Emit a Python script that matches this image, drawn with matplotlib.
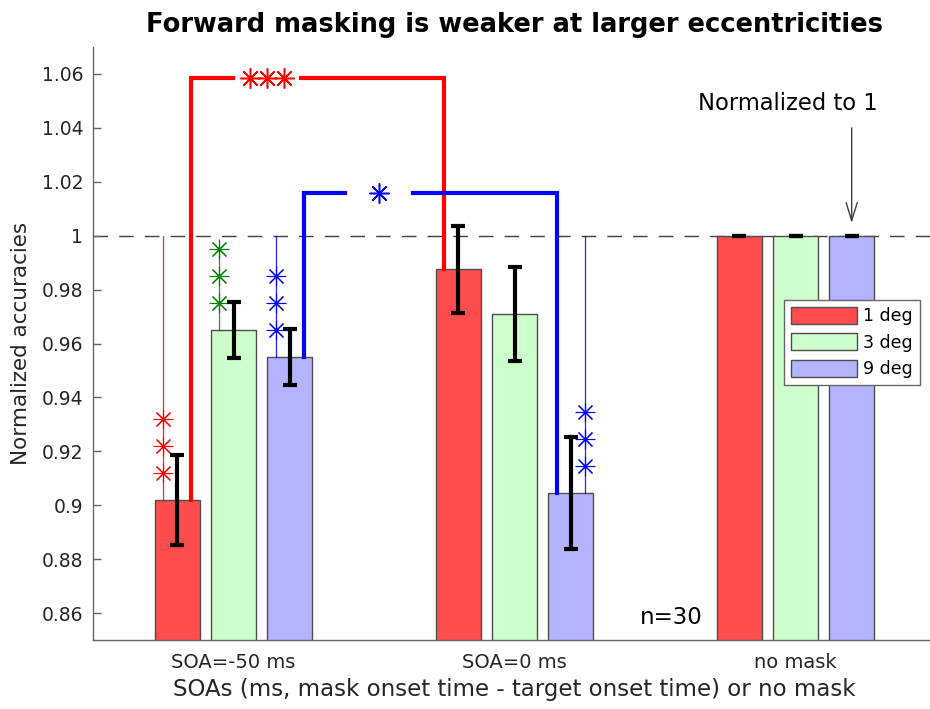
import matplotlib
matplotlib.use("Agg")
import matplotlib.pyplot as plt
import numpy as np

# data
groups = ["SOA=-50 ms", "SOA=0 ms", "no mask"]
ecc_labels = ["1 deg", "3 deg", "9 deg"]
acc_1deg = [0.902, 0.9875, 1.0]
acc_3deg = [0.965, 0.971, 1.0]
acc_9deg = [0.955, 0.9045, 1.0]
err_1deg = [0.0168, 0.0162, 0.0]
err_3deg = [0.0103, 0.0174, 0.0]
err_9deg = [0.0104, 0.0209, 0.0]

# stars vs. 1: (group, eccentricity, number of stars, side)
sig_group = [0, 0, 0, 1]
sig_ecc = [0, 1, 2, 2]
sig_nstars = [3, 3, 3, 3]
sig_side = [-1, -1, -1, 1]

# brackets between SOAs for one eccentricity
bracket_ecc = [2, 0]
bracket_y = [1.016, 1.0584]
bracket_star_x = [1.519, 1.12]
bracket_nstars = [1, 3]

n_subj = 30

bar_colors = ["#ff4d4d", "#ccffcc", "#b3b3ff"]
star_colors = ["#ff0000", "#008000", "#0000ff"]
axis_gray = "#666666"
text_col = "#262626"

plt.rcParams["font.family"] = "DejaVu Sans"

fig = plt.figure(figsize=(9.3, 7.09), dpi=100)
ax = fig.add_axes([93 / 930, 1 - 640 / 709, (936 - 93) / 930, (640 - 47) / 709])

x = np.arange(1, len(groups) + 1)
offs = [-0.2, 0.0, 0.2]
width = 0.16
accs = [acc_1deg, acc_3deg, acc_9deg]
errs = [err_1deg, err_3deg, err_9deg]

ax.axhline(1.0, color="#404040", lw=1.0, dashes=(10.5, 8), zorder=1)

for i in range(3):
    ax.bar(x + offs[i], accs[i], width=width, bottom=0,
           color=bar_colors[i], edgecolor="#4d4d4d", linewidth=1.0,
           label=ecc_labels[i], zorder=2)

for i in range(3):
    ax.errorbar(x + offs[i], accs[i], yerr=errs[i], fmt="none",
                ecolor="black", elinewidth=3, capsize=4.8, capthick=3, zorder=5)

star = (8, 2, 0)

# stars against normalized level
for g, e, n, s in zip(sig_group, sig_ecc, sig_nstars, sig_side):
    xs = x[g] + offs[e] + 0.05 * s
    top = accs[e][g]
    levels = [top + 0.01 * (k + 1) for k in range(n)]
    line_top = 1.0 if levels[-1] < 0.99 else levels[-1]
    ax.plot([xs, xs], [top, line_top], color=star_colors[e], lw=0.9,
            alpha=0.85, zorder=3)
    ax.plot([xs] * n, levels, linestyle="none", marker=star, markersize=14,
            markeredgewidth=0.8, color=star_colors[e], zorder=4)

# brackets
gap = 0.121
for e, by, sx, n in zip(bracket_ecc, bracket_y, bracket_star_x, bracket_nstars):
    xl = x[0] + offs[e] + 0.05
    xr = x[1] + offs[e] - 0.05
    col = star_colors[e]
    ax.plot([xl, xl, sx - gap], [accs[e][0], by, by], color=col, lw=3,
            solid_joinstyle="miter", zorder=3 + e)
    ax.plot([sx + gap, xr, xr], [by, by, accs[e][1]], color=col, lw=3,
            solid_joinstyle="miter", zorder=3 + e)
    sxs = [sx + 0.06 * (k - (n - 1) / 2) for k in range(n)]
    ax.plot(sxs, [by] * n, linestyle="none", marker=star, markersize=14.5,
            markeredgewidth=1.1, color=col, zorder=4)

ax.annotate("", xy=(x[2] + offs[2], 1.0047), xytext=(x[2] + offs[2], 1.04),
            arrowprops=dict(arrowstyle="->,head_length=1.3,head_width=0.4",
                            mutation_scale=10, color="#404040", lw=1.0,
                            shrinkA=0, shrinkB=0))
ax.text(2.973, 1.0492, "Normalized to 1", ha="center", va="center",
        fontsize=16.3, color="black")
ax.text(2.557, 0.8585, f"n={n_subj}", ha="center", va="center",
        fontsize=16.5, color="black")

ax.set_xlim(0.5, 3.5)
ax.set_ylim(0.85, 1.07)
ax.set_xticks(x)
ax.set_xticklabels(groups)
yt = np.round(np.arange(0.86, 1.0601, 0.02), 2)
ax.set_yticks(yt)
ax.set_yticklabels([f"{v:g}" for v in yt])

ax.spines["top"].set_visible(False)
ax.spines["right"].set_visible(False)
for sp in ["left", "bottom"]:
    ax.spines[sp].set_color(axis_gray)
    ax.spines[sp].set_linewidth(1.0)
ax.tick_params(axis="both", direction="in", length=6, width=1.0,
               color=axis_gray, labelcolor=text_col)
ax.tick_params(axis="y", labelsize=13.5, pad=7)
ax.tick_params(axis="x", labelsize=14, pad=9)

ax.set_xlabel("SOAs (ms, mask onset time - target onset time) or no mask",
              fontsize=16.5, color=text_col, labelpad=5)
ax.set_ylabel("Normalized accuracies", fontsize=15.5, color=text_col, labelpad=8)
ax.set_title("Forward masking is weaker at larger eccentricities",
             fontsize=18.5, fontweight="bold", pad=11)

leg = ax.legend(loc="upper left", bbox_to_anchor=(784 / 930, 1 - 300 / 709),
                bbox_transform=fig.transFigure, borderaxespad=0, fontsize=12.5,
                handlelength=3.8, handleheight=1.15, labelspacing=0.45,
                handletextpad=0.35, borderpad=0.4, fancybox=False, framealpha=1)
leg.get_frame().set_edgecolor("#666666")
leg.get_frame().set_linewidth(1.0)

fig.savefig("out.png", dpi=100)
